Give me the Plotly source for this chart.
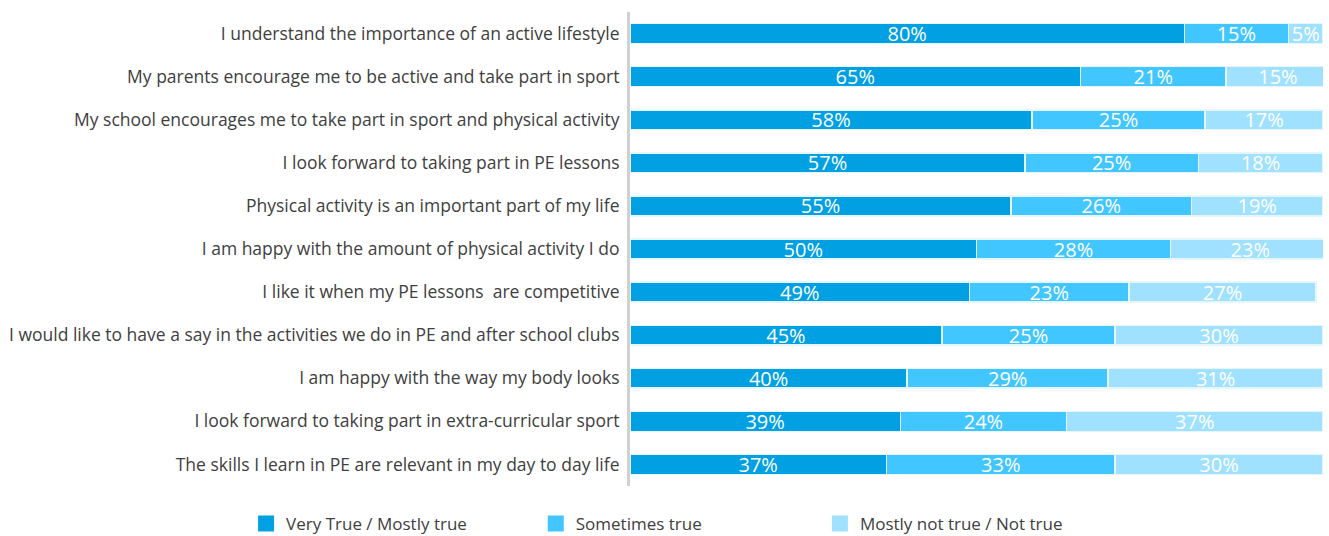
import plotly.graph_objects as go

categories = [
    "I understand the importance of an active lifestyle",
    "My parents encourage me to be active and take part in sport",
    "My school encourages me to take part in sport and physical activity",
    "I look forward to taking part in PE lessons",
    "Physical activity is an important part of my life",
    "I am happy with the amount of physical activity I do",
    "I like it when my PE lessons  are competitive",
    "I would like to have a say in the activities we do in PE and after school clubs",
    "I am happy with the way my body looks",
    "I look forward to taking part in extra-curricular sport",
    "The skills I learn in PE are relevant in my day to day life",
]
very_true = [80, 65, 58, 57, 55, 50, 49, 45, 40, 39, 37]
sometimes_true = [15, 21, 25, 25, 26, 28, 23, 25, 29, 24, 33]
not_true = [5, 15, 17, 18, 19, 23, 27, 30, 31, 37, 30]

series_names = ["Very True / Mostly true", "Sometimes true", "Mostly not true / Not true"]
series_values = [very_true, sometimes_true, not_true]
colors = ["#00A0E2", "#42C6FF", "#A0E1FF"]
legend_ids = ["legend", "legend2", "legend3"]
legend_x = [-0.554, -0.136, 0.274]

FONT = "'Open Sans', sans-serif"

fig = go.Figure()
for name, vals, col, lg in zip(series_names, series_values, colors, legend_ids):
    fig.add_trace(go.Bar(
        y=categories, x=vals, orientation="h", name=name,
        marker=dict(color=col, line=dict(color="#E6F6FD", width=1.5)),
        text=[f"{v}%" for v in vals], textposition="inside",
        insidetextanchor="middle", constraintext="none",
        textfont=dict(color="white", size=20, family=FONT),
        showlegend=False,
    ))
    # legend entry with a larger square swatch
    fig.add_trace(go.Scatter(
        x=[None], y=[None], mode="markers", name=name,
        marker=dict(symbol="square", size=20, color=col),
        legend=lg, showlegend=True, hoverinfo="skip",
    ))

layout_legends = {}
for lg, lx in zip(legend_ids, legend_x):
    layout_legends[lg] = dict(
        x=lx, y=-0.08, xanchor="left", yanchor="middle",
        orientation="h", font=dict(size=17, color="#404040", family=FONT),
        bgcolor="rgba(0,0,0,0)", itemsizing="trace",
    )

fig.update_layout(
    barmode="stack",
    bargap=0.54,
    width=1329, height=536,
    margin=dict(l=630, r=6, t=12, b=50, autoexpand=False),
    plot_bgcolor="white", paper_bgcolor="white",
    font=dict(family=FONT, size=17.5, color="#404040"),
    showlegend=True,
    xaxis=dict(range=[0, 100], visible=False, fixedrange=True),
    yaxis=dict(autorange="reversed", showline=True, linecolor="#D0D0D0",
               linewidth=3, ticks="", showgrid=False, ticklabelstandoff=4,
               automargin=False,
               tickfont=dict(size=17.5, color="#404040", family=FONT)),
    **layout_legends,
)

fig.write_html(
    "out.html",
    config={"displayModeBar": False},
    post_script="document.body.style.margin='0';document.body.style.overflow='hidden';",
)
